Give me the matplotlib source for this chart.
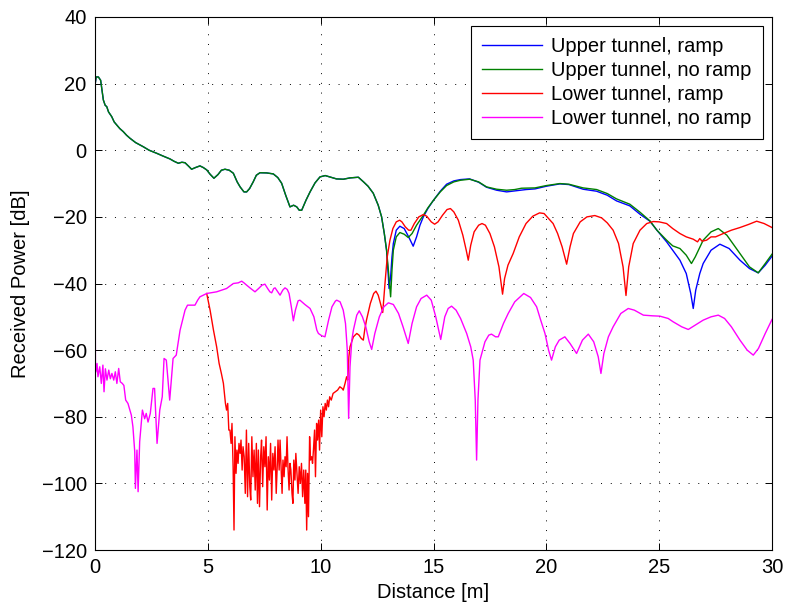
"""Received power vs distance along the tunnel, four cases."""
import matplotlib
matplotlib.use('Agg')
import matplotlib.pyplot as plt

# --- data ----------------------------------------------------------------
# upper tunnel: ramp / no ramp share the same curve up to ~12.9 m
upper_x = [0.0, 0.01, 0.05, 0.15, 0.25, 0.37, 0.45, 0.52, 0.6, 0.74, 0.85,
           0.96, 1.1, 1.25, 1.4, 1.55, 1.8, 2.14, 2.4, 2.73, 3.0, 3.32, 3.5,
           3.69, 3.85, 3.99, 4.15, 4.28, 4.45, 4.65, 4.8, 4.95, 5.1, 5.27,
           5.45, 5.6, 5.76, 5.95, 6.13, 6.3, 6.43, 6.6, 6.72, 6.85, 7.01,
           7.15, 7.31, 7.6, 7.9, 8.1, 8.27, 8.45, 8.64, 8.8, 8.94, 9.05,
           9.16, 9.35, 9.53, 9.75, 9.97, 10.2, 10.4, 10.7, 11.0, 11.3,
           11.67, 11.9, 12.1, 12.33, 12.55, 12.7, 12.82, 12.92]
upper_y = [-30, 20, 22, 22, 21, 15.1, 13.5, 13.1, 11.5, 10.1, 8.5,
           7.6, 6.5, 5.6, 4.5, 3.6, 2.3, 1.05, 0, -0.9, -1.7, -2.6, -3.3,
           -3.9, -3.6, -3.75, -4.8, -5.7, -5.2, -4.7, -5.2, -5.9, -7.2, -8.4,
           -7.3, -6, -5.7, -6, -6.9, -9.5, -11, -12.5, -12.5, -11.5, -9.5,
           -7.5, -6.75, -6.8, -7.1, -8.2, -9.9, -13.5, -17, -16.5, -17, -18,
           -18, -15, -12.5, -9.8, -8, -7.6, -8, -8.6, -8.7, -8.3,
           -8.1, -9.5, -10.8, -12.9, -16.5, -20, -25, -30]

upper_ramp_x = [13.0, 13.03, 13.1, 13.16, 13.22, 13.35, 13.51, 13.7, 13.9,
                14.1, 14.25, 14.4, 14.55, 14.75, 15.0, 15.3, 15.58, 15.9,
                16.2, 16.6, 17.0, 17.35, 17.8, 18.24, 18.6, 19.1, 19.5,
                20.0, 20.6, 21.0, 21.63, 22.23, 22.7, 23.11, 23.7, 24.15,
                24.59, 24.9, 25.33, 25.6, 25.92, 26.2, 26.4, 26.51, 26.62,
                26.8, 26.95, 27.3, 27.69, 28.1, 28.58, 29.0, 29.39, 29.7, 30.0]
upper_ramp_y = [-38, -41.5, -38, -32, -28, -24, -22.8, -23.5, -26,
                -28.8, -26, -22.5, -20, -17.5, -15, -12.3, -10.2, -9.2,
                -8.8, -8.6, -9.6, -11.1, -12, -12.5, -12.2, -11.8, -11.6,
                -10.8, -10.1, -10.3, -11.7, -12.3, -13.5, -15.2, -16.7, -19.2,
                -21.3, -24, -27.5, -30, -33, -37, -43, -47.5, -42,
                -37, -34, -30, -28.2, -29.5, -33, -35.5, -36.8, -34.5, -31.8]

upper_noramp_x = [13.0, 13.1, 13.16, 13.22, 13.35, 13.51, 13.7, 13.88,
                  14.05, 14.25, 14.55, 14.75, 15.0, 15.3, 15.58, 15.9, 16.2,
                  16.6, 17.0, 17.35, 17.8, 18.24, 18.6, 18.9, 19.5, 20.0,
                  20.6, 21.0, 21.63, 22.23, 22.7, 23.11, 23.7, 24.15, 24.59,
                  24.9, 25.33, 25.6, 25.92, 26.2, 26.43, 26.6, 26.95, 27.3,
                  27.62, 28.0, 28.58, 29.0, 29.39, 29.7, 30.0]
upper_noramp_y = [-36, -44, -36, -30, -26, -24.7, -25.2, -26.2,
                  -25, -22.5, -19.5, -17.3, -15, -12.5, -10.6, -9.5, -9,
                  -8.7, -9.5, -11, -11.7, -12, -11.8, -11.4, -11.3, -10.6,
                  -10, -10.2, -11.3, -11.8, -13, -14.6, -16.2, -18.6, -21.2,
                  -24, -27, -28.7, -29.5, -31.5, -34, -32, -27, -24.5,
                  -23.5, -25.5, -31, -35, -36.8, -34, -31.2]

lower_ramp_x = [4.95, 5.1, 5.25, 5.39, 5.5, 5.6, 5.69, 5.78, 5.83, 5.88,
                5.93, 5.98, 6.03, 6.07, 6.12, 6.16, 6.2, 6.25, 6.29, 6.34,
                6.38, 6.43, 6.47, 6.52, 6.56, 6.61, 6.66, 6.71, 6.76, 6.81,
                6.86, 6.9, 6.95, 7.0, 7.05, 7.1, 7.15, 7.2, 7.24, 7.29, 7.34,
                7.38, 7.43, 7.48, 7.53, 7.58, 7.63, 7.68, 7.73, 7.78, 7.83,
                7.88, 7.93, 7.98, 8.03, 8.08, 8.11, 8.16, 8.2, 8.25, 8.29,
                8.33, 8.38, 8.42, 8.47, 8.51, 8.55, 8.6, 8.64, 8.68, 8.73,
                8.77, 8.81, 8.86, 8.9, 8.95, 9.0, 9.05, 9.1, 9.15, 9.2, 9.25,
                9.3, 9.34, 9.38, 9.42, 9.46, 9.51, 9.55, 9.6, 9.64, 9.68,
                9.73, 9.77, 9.82, 9.86, 9.91, 9.95, 10.0, 10.05, 10.1, 10.15,
                10.2, 10.25, 10.3, 10.35, 10.4, 10.47, 10.55, 10.65, 10.75,
                10.85, 10.95, 11.0, 11.08, 11.15, 11.2, 11.25, 11.3, 11.45,
                11.6, 11.7, 11.8, 11.89, 11.95, 12.03, 12.2, 12.35, 12.45,
                12.55, 12.65, 12.75, 12.85, 12.95, 13.07, 13.2, 13.35, 13.5,
                13.6, 13.75, 13.9, 14.0, 14.15, 14.35, 14.55, 14.7, 14.9,
                15.05, 15.2, 15.4, 15.6, 15.75, 15.9, 16.1, 16.3, 16.45,
                16.54, 16.65, 16.8, 17.0, 17.15, 17.3, 17.5, 17.7, 17.9, 18.0,
                18.06, 18.15, 18.3, 18.53, 18.8, 19.1, 19.4, 19.7, 19.9, 20.1,
                20.3, 20.5, 20.7, 20.9, 21.05, 21.2, 21.5, 21.8, 22.15, 22.45,
                22.7, 22.96, 23.2, 23.4, 23.53, 23.65, 23.85, 24.15, 24.45,
                24.74, 25.0, 25.33, 25.6, 25.92, 26.2, 26.51, 26.7, 26.8,
                26.9, 27.1, 27.3, 27.5, 27.84, 28.2, 28.58, 28.95, 29.32,
                29.65, 30.0]
lower_ramp_y = [-43, -48, -54, -59, -64, -67, -70, -76, -78, -76,
                -84, -84, -88, -82, -95, -114, -86, -97, -90, -94,
                -88, -91, -87, -96, -89, -92, -103, -84, -104, -88,
                -101, -105, -86, -98, -90, -102, -88, -106, -90, -107, -92,
                -87, -101, -89, -95, -86, -108, -92, -99, -88, -105,
                -91, -96, -89, -103, -94, -87, -96, -87, -96, -103,
                -93, -98, -92, -95, -86, -95, -102, -94, -96, -103,
                -106, -93, -99, -91, -97, -103, -95, -100, -94, -104, -96,
                -106, -96, -114, -97, -110, -86, -93, -92, -94, -90,
                -84, -98, -82, -87, -81, -90, -78, -86, -77, -80,
                -76, -78, -75, -77, -74, -75, -73, -72.5, -72,
                -71, -71.5, -72, -70, -68, -69, -62, -59, -56,
                -55, -55.5, -56.5, -57, -54, -51, -46, -43, -42.3,
                -43.5, -46, -48.7, -40, -32, -27, -23.5, -21.5, -21,
                -21.5, -23, -24, -24, -22, -20, -19.3, -19.8, -21.5,
                -22.2, -21.5, -19.5, -17.8, -17.5, -18.5, -21, -25.5, -30,
                -33, -28.5, -24.5, -22.5, -22, -22.5, -25, -29, -35, -40,
                -43.2, -38.5, -34.5, -31, -26, -22, -19.8, -18.8, -19, -20.5,
                -22, -25, -29, -34.2, -29, -25, -21.5, -20, -19.6, -20.3,
                -21.8, -24, -28, -35, -43.6, -35, -28, -24, -22,
                -21.4, -21.5, -22, -23.5, -25, -26, -26.7, -27.5, -26.5,
                -27.3, -27, -26, -26, -25, -24, -23.2, -22.3, -21.3,
                -22, -23.2]

lower_noramp_x = [0.0, 0.02, 0.03, 0.09, 0.13, 0.21, 0.28, 0.35, 0.4, 0.46,
                  0.53, 0.61, 0.68, 0.75, 0.83, 0.9, 0.97, 1.05, 1.12, 1.21,
                  1.28, 1.36, 1.46, 1.61, 1.68, 1.76, 1.79, 1.86, 1.91, 1.98,
                  2.1, 2.2, 2.27, 2.35, 2.45, 2.57, 2.64, 2.75, 2.87, 2.98,
                  3.06, 3.16, 3.31, 3.46, 3.6, 3.77, 3.99, 4.1, 4.21, 4.43,
                  4.55, 4.65, 4.95, 5.39, 5.83, 6.13, 6.35, 6.5, 6.6, 6.72,
                  6.9, 7.09, 7.25, 7.4, 7.53, 7.65, 7.75, 7.83, 7.92, 7.98,
                  8.1, 8.2, 8.32, 8.42, 8.52, 8.6, 8.7, 8.79, 8.88, 9.0, 9.08,
                  9.3, 9.53, 9.7, 9.83, 9.9, 10.05, 10.19, 10.35, 10.5, 10.65,
                  10.71, 10.86, 11.0, 11.1, 11.18, 11.24, 11.3, 11.38, 11.45,
                  11.6, 11.71, 11.85, 12.0, 12.15, 12.26, 12.4, 12.6, 12.8,
                  13.0, 13.22, 13.45, 13.65, 13.88, 14.05, 14.25, 14.45, 14.7,
                  14.9, 15.1, 15.32, 15.5, 15.65, 15.8, 16.0, 16.2, 16.47,
                  16.65, 16.76, 16.85, 16.91, 16.97, 17.06, 17.28, 17.45,
                  17.57, 17.75, 17.87, 18.1, 18.31, 18.6, 19.0, 19.3, 19.57,
                  19.75, 19.94, 20.1, 20.23, 20.4, 20.57, 20.82, 21.05, 21.34,
                  21.6, 21.86, 22.1, 22.3, 22.42, 22.55, 22.75, 22.96, 23.3,
                  23.63, 23.9, 24.3, 24.7, 25.03, 25.4, 25.62, 26.0, 26.29,
                  26.6, 26.95, 27.3, 27.62, 27.9, 28.2, 28.58, 28.9, 29.17,
                  29.4, 29.7, 30.0]
lower_noramp_y = [-30, -66.6, -66.6, -64, -68, -65, -70, -64.5, -72.5, -65.6,
                  -69, -66, -68.6, -67, -69, -66.5, -70, -65.5, -69.5, -70,
                  -70.6, -75, -76, -79.5, -83, -90.4, -101.5, -90, -102.5,
                  -87.5, -78, -80.6, -79, -81.6, -79, -71.5, -71.5, -88, -78,
                  -74, -62.5, -63, -75, -62.5, -61.5, -54, -48, -46.5, -46.5,
                  -46.5, -45, -44, -43, -42.5, -41.5, -40, -39.8, -39.3,
                  -39.8, -40.5, -41.5, -42.5, -41.5, -40.5, -40.2, -41.5,
                  -42.5, -42.8, -41.5, -41.3, -42.5, -43.5, -42, -41.3, -41.8,
                  -43, -47, -51.2, -48, -45.2, -45, -46.3, -47.5, -50, -54,
                  -55, -55.7, -56, -51, -47, -45.3, -45, -45.5, -48, -52, -60,
                  -80.5, -65, -57, -54, -49.5, -48.2, -50, -53, -57.5, -59.8,
                  -55, -50, -47, -45.8, -46.3, -49, -53, -58, -52, -47, -44.5,
                  -43.5, -45, -50, -56.8, -50, -47.5, -46.8, -48, -50.5, -55,
                  -59, -63, -75, -93, -75, -63, -57.5, -55.5, -55.2, -56, -56,
                  -52, -49, -45.5, -43, -44.2, -47, -51, -55, -60, -63, -59,
                  -57, -56, -58, -61, -57, -55.2, -57.5, -62, -67, -61, -56,
                  -53, -49, -47.5, -48, -49.5, -49.7, -49.8, -50.5, -51.5,
                  -53, -53.8, -52.5, -51, -50, -49.5, -50.5, -53, -57, -60,
                  -61.5, -59.5, -55, -50.8]

labels = ['Upper tunnel, ramp', 'Upper tunnel, no ramp',
          'Lower tunnel, ramp', 'Lower tunnel, no ramp']
x_ticks = [0, 5, 10, 15, 20, 25, 30]
y_ticks = [-120, -100, -80, -60, -40, -20, 0, 20, 40]

# --- plot -----------------------------------------------------------------
plt.rcParams['font.family'] = ['Liberation Sans', 'DejaVu Sans']
plt.rcParams['font.size'] = 14.5

fig = plt.figure(figsize=(7.87, 6.09), dpi=100)
ax = fig.add_axes([95 / 787, 1 - 550 / 609, 677 / 787, 533 / 609])

lw = 1.0
ax.plot(upper_x + upper_ramp_x, upper_y + upper_ramp_y,
        color=(0, 0, 1), lw=lw, label=labels[0])
ax.plot(upper_x + upper_noramp_x, upper_y + upper_noramp_y,
        color=(0, 0.5, 0), lw=lw, label=labels[1])
ax.plot(lower_ramp_x, lower_ramp_y, color=(1, 0, 0), lw=lw, label=labels[2])
ax.plot(lower_noramp_x, lower_noramp_y, color=(1, 0, 1), lw=lw,
        label=labels[3])

ax.set_xlim(0, 30)
ax.set_ylim(-120, 40)
ax.set_xticks(x_ticks)
ax.set_yticks(y_ticks)
ax.grid(True, color='black', linestyle=(0, (1, 9)), lw=0.7)
ax.tick_params(direction='in', top=True, right=True, length=5, width=0.7,
               pad=6)
for sp in ax.spines.values():
    sp.set_linewidth(0.8)

ax.set_xlabel('Distance [m]', labelpad=4)
ax.set_ylabel('Received Power [dB]', labelpad=8)

leg = ax.legend(loc='upper right', fancybox=False, framealpha=1,
                edgecolor='black', borderaxespad=0.45, borderpad=0.55,
                labelspacing=0.25, handlelength=3.0, handletextpad=0.45)
leg.get_frame().set_linewidth(0.8)

fig.savefig('out.png', dpi=100)
